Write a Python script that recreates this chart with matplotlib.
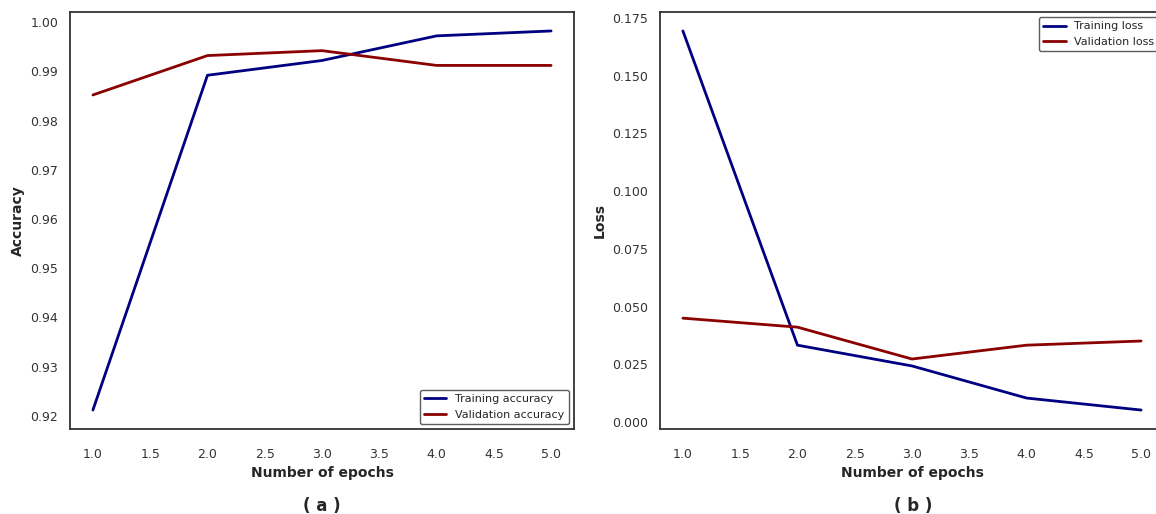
import matplotlib
matplotlib.use("Agg")
import matplotlib.pyplot as plt
import seaborn as sns

epochs = [1, 2, 3, 4, 5]
train_acc = [0.9212, 0.9892, 0.9922, 0.9972, 0.9982]
val_acc = [0.9852, 0.9932, 0.9942, 0.9912, 0.9912]
train_loss = [0.1694, 0.0333, 0.0243, 0.0104, 0.0052]
val_loss = [0.0450, 0.0411, 0.0273, 0.0333, 0.0351]

sns.set_style("white")
plt.rcParams['font.family'] = ['DejaVu Sans']

W, H = 1156, 514
fig = plt.figure(figsize=(W / 100, H / 100), dpi=100)

def box(x0, y0, x1, y1):
    return [x0 / W, 1 - y1 / H, (x1 - x0) / W, (y1 - y0) / H]

ax1 = fig.add_axes(box(70, 12, 574, 429))
ax2 = fig.add_axes(box(660, 12, 1164, 429))

for ax in (ax1, ax2):
    for s in ax.spines.values():
        s.set_color('#333333')
        s.set_linewidth(1.3)
    ax.tick_params(labelsize=9, colors='#333333')
    ax.tick_params(axis='x', pad=10)
    ax.tick_params(axis='y', pad=5)
    ax.set_xlabel('Number of epochs', fontsize=10, fontweight='bold', color='#262626', labelpad=4)

ax1.plot(epochs, train_acc, color='navy', lw=2, label='Training accuracy')
ax1.plot(epochs, val_acc, color='darkred', lw=2, label='Validation accuracy')
ax1.set_ylabel('Accuracy', fontsize=10, fontweight='bold', color='#262626', labelpad=4)
leg1 = ax1.legend(loc='lower right', fontsize=8, frameon=True, fancybox=True, borderaxespad=0.45)
leg1.get_frame().set_edgecolor('#333333')

ax2.plot(epochs, train_loss, color='navy', lw=2, label='Training loss')
ax2.plot(epochs, val_loss, color='darkred', lw=2, label='Validation loss')
ax2.set_ylabel('Loss', fontsize=10, fontweight='bold', color='#262626', labelpad=4)
leg2 = ax2.legend(loc='upper right', fontsize=8, frameon=True, fancybox=True, borderaxespad=0.45)
leg2.get_frame().set_edgecolor('#333333')

fig.text(322 / W, 1 - 506 / H, '( a )', ha='center', va='center', fontsize=12, fontweight='bold', color='#262626')
fig.text(913 / W, 1 - 506 / H, '( b )', ha='center', va='center', fontsize=12, fontweight='bold', color='#262626')

fig.savefig('out.png', dpi=100)
